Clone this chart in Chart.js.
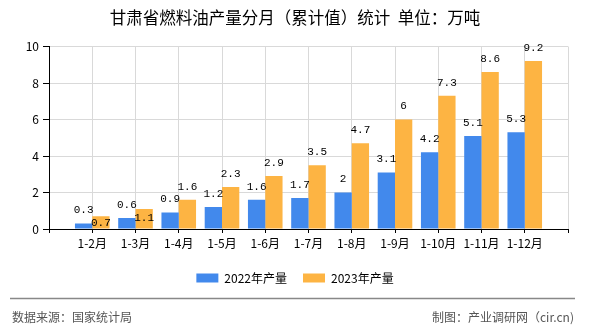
<!DOCTYPE html>
<html>
<head>
<meta charset="utf-8">
<script src="https://cdn.jsdelivr.net/npm/chart.js@4.4.1/dist/chart.umd.min.js"></script>
<style>
  html, body { margin: 0; padding: 0; background: #fff; }
  #wrap { width: 590px; height: 330px; position: relative; }
</style>
</head>
<body>
<div id="wrap"><canvas id="chart"></canvas></div>
<script>
(function () {
  'use strict';

  // ---- data ----
  var MONTHS = ['1-2月', '1-3月', '1-4月', '1-5月', '1-6月', '1-7月', '1-8月', '1-9月', '1-10月', '1-11月', '1-12月'];
  var OUT_2022 = [0.3, 0.6, 0.9, 1.2, 1.6, 1.7, 2, 3.1, 4.2, 5.1, 5.3];
  var OUT_2023 = [0.7, 1.1, 1.6, 2.3, 2.9, 3.5, 4.7, 6, 7.3, 8.6, 9.2];
  var Y_TICKS = [0, 2, 4, 6, 8, 10];
  var SERIES_NAMES = ['2022年产量', '2023年产量'];

  var COLORS = {
    blue: '#4289ec',
    orange: '#fdb443',
    grid: '#d9d9d9',
    axis: '#000',
    footer: '#555'
  };

  var CJK = "'Noto Sans CJK SC', 'Noto Sans', sans-serif";
  var MONO = "'Liberation Mono', 'DejaVu Sans Mono', monospace";

  // axis runs half a step past the last month, first slot is the y axis
  function pad(arr, v) { return [v].concat(arr, [v]); }

  // value labels above bars; the 2023 label drops under the 2022 one when they collide
  var valueLabels = {
    id: 'valueLabels',
    afterDatasetsDraw: function (chart) {
      var ctx = chart.ctx;
      var m0 = chart.getDatasetMeta(0);
      var m1 = chart.getDatasetMeta(1);
      ctx.save();
      ctx.font = '11px ' + MONO;
      ctx.fillStyle = '#000';
      ctx.textAlign = 'center';
      ctx.textBaseline = 'middle';
      m0.data.forEach(function (bar, i) {
        var v0 = chart.data.datasets[0].data[i];
        var v1 = chart.data.datasets[1].data[i];
        if (v0 === null) return;
        var y0 = bar.y - 13;
        ctx.fillText(String(v0), bar.x, y0);
        var b1 = m1.data[i];
        var y1 = b1.y - 13;
        if (Math.abs(y1 - y0) < 11) y1 = y0 + 13;
        ctx.fillText(String(v1), b1.x, y1);
      });
      ctx.restore();
    }
  };

  var footer = {
    id: 'footer',
    afterDraw: function (chart) {
      var ctx = chart.ctx;
      ctx.save();
      ctx.strokeStyle = '#888';
      ctx.lineWidth = 1.5;
      ctx.beginPath();
      ctx.moveTo(10, 298.5);
      ctx.lineTo(575, 298.5);
      ctx.stroke();
      ctx.font = '12px ' + CJK;
      ctx.fillStyle = COLORS.footer;
      ctx.textBaseline = 'middle';
      ctx.textAlign = 'left';
      ctx.fillText('数据来源：国家统计局', 12, 317);
      ctx.textAlign = 'right';
      ctx.fillText('制图：产业调研网（cir.cn)', 574, 317);
      ctx.restore();
    }
  };

  new Chart(document.getElementById('chart').getContext('2d'), {
    type: 'bar',
    data: {
      labels: pad(MONTHS, ''),
      datasets: [
        {
          label: SERIES_NAMES[0],
          data: pad(OUT_2022, null),
          backgroundColor: COLORS.blue,
          categoryPercentage: 0.8,
          barPercentage: 1
        },
        {
          label: SERIES_NAMES[1],
          data: pad(OUT_2023, null),
          backgroundColor: COLORS.orange,
          categoryPercentage: 0.8,
          barPercentage: 1
        }
      ]
    },
    options: {
      responsive: true,
      maintainAspectRatio: false,
      animation: false,
      layout: { padding: { left: 22, right: 22, top: 0, bottom: 36 } },
      plugins: {
        title: {
          display: true,
          text: '甘肃省燃料油产量分月（累计值）统计  单位：万吨',
          color: '#000',
          font: { family: CJK, size: 16.5, weight: 'normal' },
          padding: { top: 8, bottom: 18.7 }
        },
        legend: {
          display: true,
          position: 'bottom',
          labels: {
            boxWidth: 22,
            boxHeight: 9,
            padding: 16,
            color: '#000',
            font: { family: CJK, size: 12 }
          }
        },
        tooltip: { enabled: false }
      },
      scales: {
        x: {
          offset: false,
          grid: { offset: false, color: COLORS.grid, tickColor: COLORS.axis, tickLength: 4 },
          border: { color: COLORS.axis },
          ticks: {
            autoSkip: false,
            maxRotation: 0,
            padding: 3,
            color: '#000',
            font: { family: CJK, size: 12 }
          },
          afterFit: function (s) { s.height = 27; }
        },
        y: {
          min: 0,
          max: 10,
          afterBuildTicks: function (s) { s.ticks = Y_TICKS.map(function (v) { return { value: v }; }); },
          grid: { color: COLORS.grid, tickColor: COLORS.axis, tickLength: 6 },
          border: { color: COLORS.axis },
          ticks: {
            padding: 4,
            color: '#000',
            font: { family: CJK, size: 12 }
          },
          afterFit: function (s) { s.width = 27; }
        }
      }
    },
    plugins: [valueLabels, footer]
  });
})();
</script>
</body>
</html>
